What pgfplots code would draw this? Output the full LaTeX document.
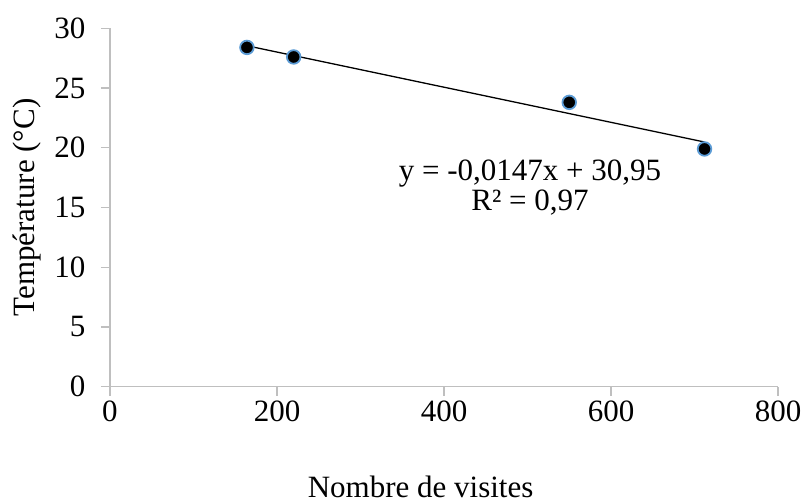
\documentclass[border=0pt]{standalone}
\usepackage{fontspec}
\setmainfont{Liberation Serif}
\usepackage{pgfplots}
\pgfplotsset{compat=1.18}
\usetikzlibrary{calc}
\definecolor{axgray}{RGB}{191,191,191}
\definecolor{mkblue}{RGB}{91,155,213}
\begin{document}
\begin{tikzpicture}
\begin{axis}[
  scale only axis,
  width=668pt, height=358.4pt,
  xmin=0, xmax=800, ymin=0, ymax=30,
  xtick distance=200, ytick distance=5,
  axis x line*=bottom, axis y line*=left,
  axis line style={-, draw=axgray, line width=1.3pt},
  tick style={draw=axgray, line width=1.3pt},
  tick align=outside,
  major tick length=9pt,
  /pgf/number format/assume math mode=true,
  ticklabel style={font=\fontsize{31}{31}\selectfont},
  xticklabel style={yshift=-2pt},
  yticklabel style={xshift=-12pt},
  xlabel={Nombre de visites},
  ylabel={Température (°C)},
  label style={font=\fontsize{31}{31}\selectfont},
  x label style={at={(axis description cs:0.465,-0.28)}, anchor=center},
  y label style={at={(axis description cs:-0.124,0.5)}, anchor=center, rotate=0},
  clip=false,
]
\addplot[black, line width=1.3pt, no marks] coordinates {(164,28.54) (712,20.48)};
\addplot[only marks, mark=*, mark size=6.8pt, mark options={fill=black, draw=mkblue, line width=1.8pt}]
  coordinates {(164,28.4) (220,27.6) (550,23.8) (712,19.9)};
\node[align=center, font=\fontsize{31}{31}\selectfont, inner sep=0pt] at (axis cs:503,16.7)
  {y = -0,0147x + 30,95\\[-1pt]R² = 0,97};
\end{axis}
\pgfresetboundingbox
\path ($(current axis.south west)+(-110pt,-117.3pt)$) rectangle ($(current axis.north east)+(26pt,28.3pt)$);
\end{tikzpicture}
\end{document}
